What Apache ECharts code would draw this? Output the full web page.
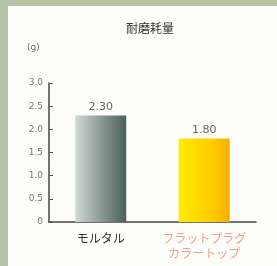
<!DOCTYPE html>
<html>
<head>
<meta charset="utf-8">
<script src="https://cdn.jsdelivr.net/npm/echarts@6/dist/echarts.min.js"></script>
<style>
  html, body { margin: 0; padding: 0; background: #b7c3a6; }
  #chart { position: absolute; left: 8px; top: 6px; width: 269px; height: 260px; background: #fdfdf9; }
</style>
</head>
<body>
<div id="chart"></div>
<script>
// 耐磨耗量 (g)
const categories = ["モルタル", "フラットプラグ\nカラートップ"];
const values = [2.3, 1.8];
const yTicks = [0, 0.5, 1.0, 1.5, 2.0, 2.5, 3.0];

const chart = echarts.init(document.getElementById("chart"));
chart.setOption({
  animation: false,
  textStyle: { fontFamily: "Noto Sans CJK JP" },
  title: {
    text: "耐磨耗量",
    left: 137,
    top: 11,
    textAlign: "center",
    textStyle: { fontSize: 12, fontWeight: "normal", color: "#333" },
  },
  graphic: [
    {
      type: "text",
      left: 19,
      top: 37,
      style: { text: "(g)", fontSize: 9, fill: "#666", fontFamily: "DejaVu Sans" },
    },
  ],
  grid: { left: 41, top: 77, width: 207, height: 139 },
  xAxis: {
    type: "category",
    data: categories,
    axisLine: { lineStyle: { color: "#444", width: 1.5 } },
    axisTick: { show: false },
    axisLabel: {
      interval: 0,
      hideOverlap: false,
      margin: 9,
      fontSize: 12,
      lineHeight: 15,
      color: (v, i) => (i === 0 ? "#333" : "#f4a28c"),
    },
  },
  yAxis: {
    type: "value",
    min: 0,
    max: 3,
    interval: 0.5,
    splitLine: { show: false },
    axisLine: { show: true, lineStyle: { color: "#444", width: 1.5 } },
    axisTick: { show: true, inside: true, length: 4, lineStyle: { color: "#555" } },
    axisLabel: {
      fontSize: 9,
      color: "#777",
      margin: 6,
      fontFamily: "DejaVu Sans",
      formatter: (v) => (v === 0 ? "0" : v.toFixed(1)),
    },
  },
  series: [
    {
      type: "bar",
      barWidth: 51,
      data: values.map((v, i) => ({
        value: v,
        itemStyle: {
          color: new echarts.graphic.LinearGradient(0, 0, 1, 0,
            i === 0
              ? [{ offset: 0, color: "#d3d9d6" }, { offset: 0.5, color: "#8c9a95" }, { offset: 1, color: "#4c5f59" }]
              : [{ offset: 0, color: "#ffea00" }, { offset: 0.6, color: "#ffcf00" }, { offset: 1, color: "#f5ae00" }]
          ),
        },
      })),
      label: {
        show: true,
        position: "top",
        distance: 3,
        fontSize: 11,
        color: "#666",
        fontFamily: "DejaVu Sans",
        formatter: (p) => p.value.toFixed(2),
      },
    },
  ],
});
</script>
</body>
</html>
